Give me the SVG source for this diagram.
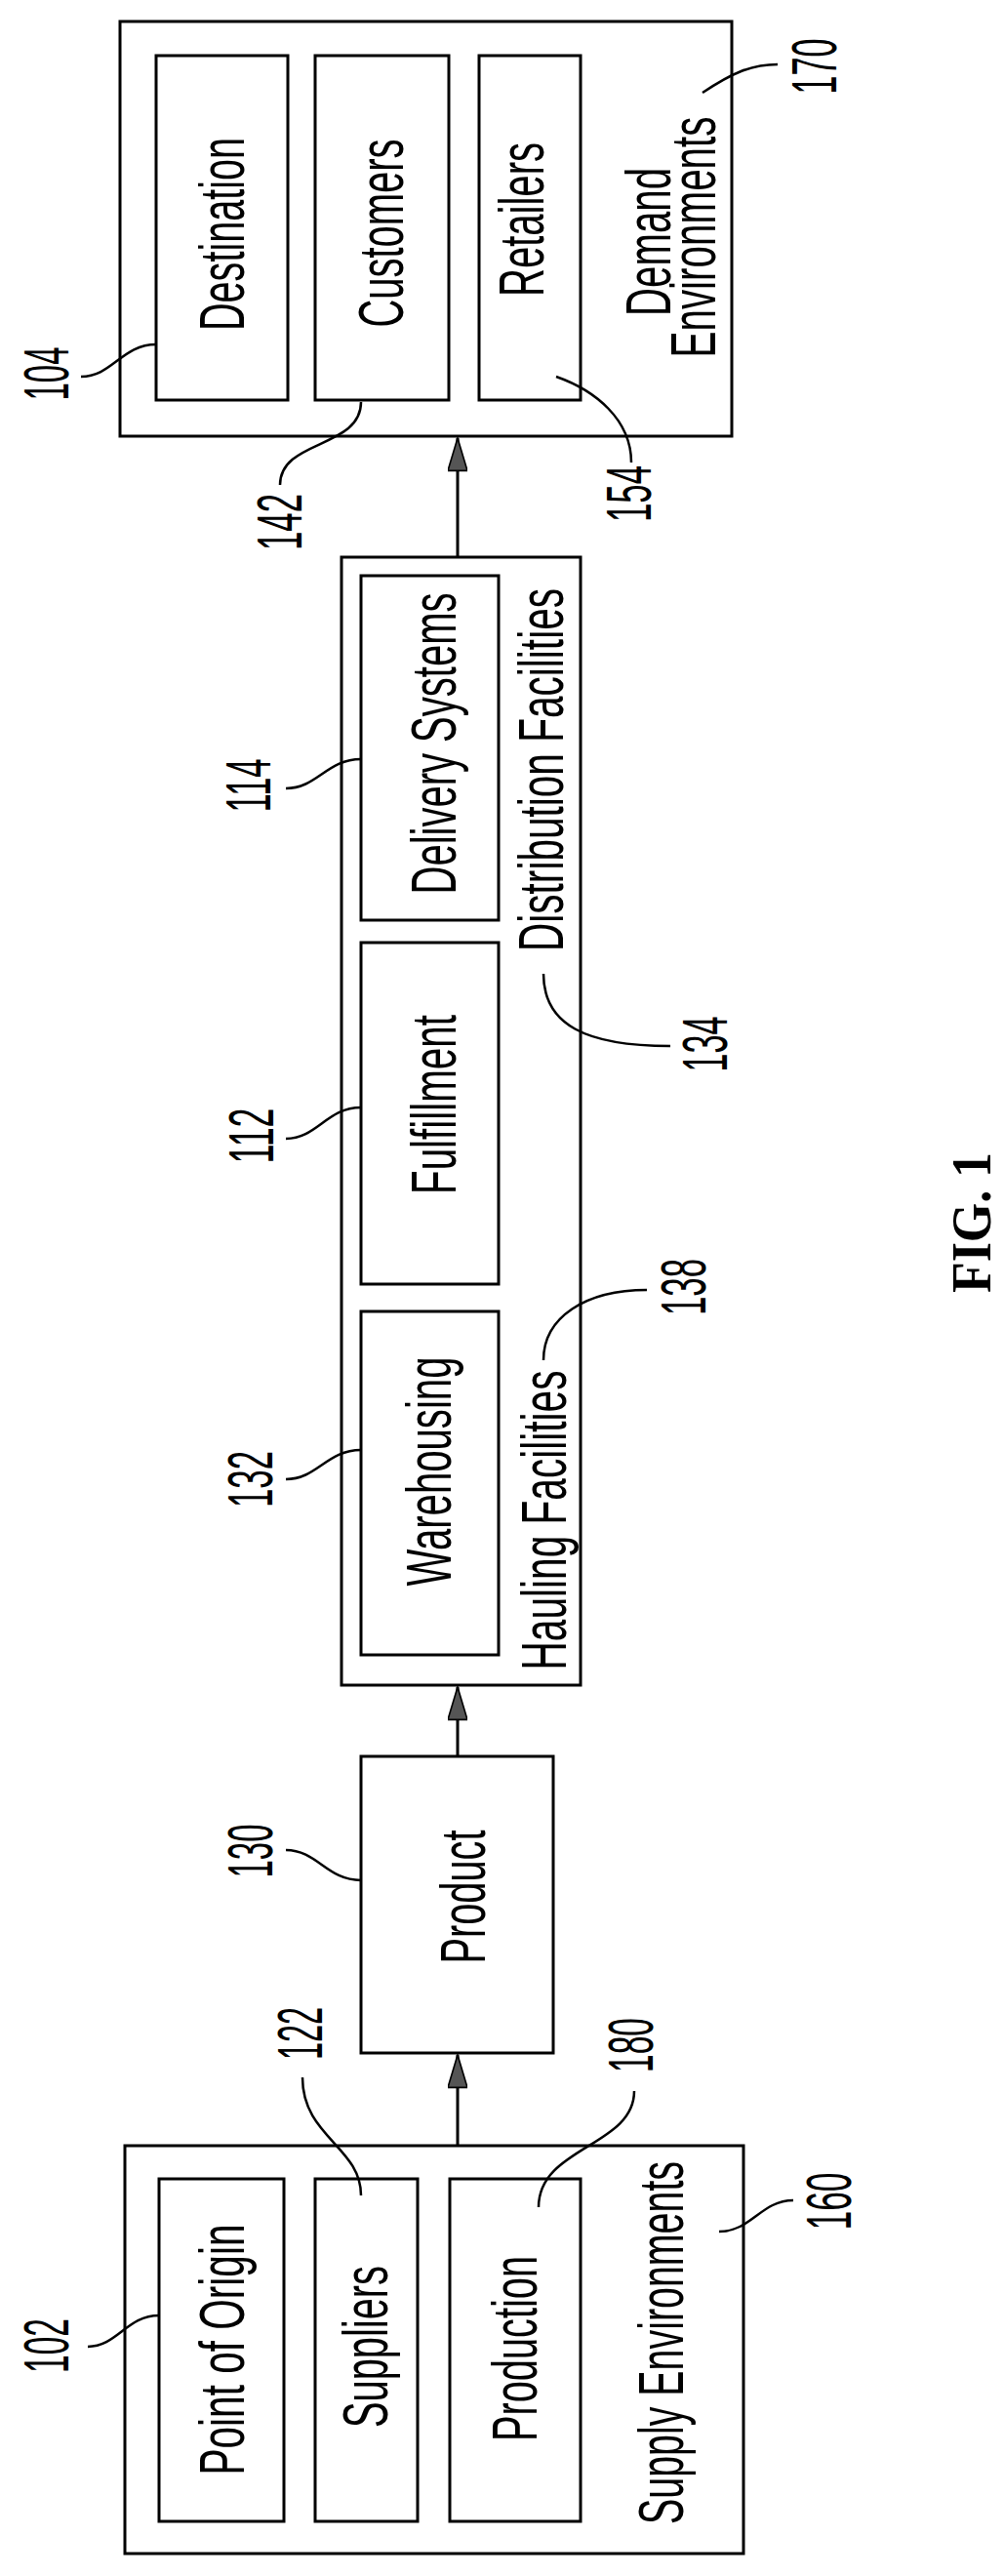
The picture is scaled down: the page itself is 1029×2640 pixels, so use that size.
<svg xmlns="http://www.w3.org/2000/svg" width="1029" height="2640" viewBox="0 0 1029 2640">
<style>
.b{fill:#fff;stroke:#000;stroke-width:3}
.t{font-family:"Liberation Sans",Arial,sans-serif;font-size:64px;text-anchor:middle;fill:#000}
.l{fill:none;stroke:#000;stroke-width:2.5}
.c{fill:none;stroke:#000;stroke-width:3}
</style>
<defs>
<marker id="ar" viewBox="0 0 20 12" refX="20" refY="6" markerWidth="36" markerHeight="20" orient="auto" markerUnits="userSpaceOnUse"><path d="M0,0L20,6L0,12z" fill="#555" stroke="#000"/></marker></defs>
<rect width="1029" height="2640" fill="#fff"/>
<g id="connectors">
<line class="c" x1="469" y1="571" x2="469" y2="449" marker-end="url(#ar)"/>
<line class="c" x1="469" y1="1800" x2="469" y2="1729" marker-end="url(#ar)"/>
<line class="c" x1="469" y1="2199" x2="469" y2="2106" marker-end="url(#ar)"/>
</g>
<g id="demand">
<rect class="b" x="123" y="22" width="627" height="425"/>
<text class="t" transform="translate(687,248) rotate(-90)" textLength="152" lengthAdjust="spacingAndGlyphs">Demand</text>
<text class="t" transform="translate(733,243) rotate(-90)" textLength="247" lengthAdjust="spacingAndGlyphs">Environments</text>
</g>
<g id="destination"><rect class="b" x="160" y="57" width="135" height="353"/><text class="t" transform="translate(250,240) rotate(-90)" textLength="198" lengthAdjust="spacingAndGlyphs">Destination</text></g>
<g id="customers"><rect class="b" x="323" y="57" width="137" height="353"/><text class="t" transform="translate(413,239) rotate(-90)" textLength="193" lengthAdjust="spacingAndGlyphs">Customers</text></g>
<g id="retailers"><rect class="b" x="491" y="57" width="104" height="353"/><text class="t" transform="translate(557,225) rotate(-90)" textLength="158" lengthAdjust="spacingAndGlyphs">Retailers</text></g>
<g id="distribution">
<rect class="b" x="350" y="571" width="245" height="1156"/>
<text class="t" transform="translate(577,789) rotate(-90)" textLength="372" lengthAdjust="spacingAndGlyphs">Distribution Facilities</text>
<text class="t" transform="translate(580,1558) rotate(-90)" textLength="307" lengthAdjust="spacingAndGlyphs">Hauling Facilities</text>
</g>
<g id="delivery"><rect class="b" x="370" y="590" width="141" height="353"/><text class="t" transform="translate(467,762) rotate(-90)" textLength="309" lengthAdjust="spacingAndGlyphs">Delivery Systems</text></g>
<g id="fulfillment"><rect class="b" x="370" y="966" width="141" height="350"/><text class="t" transform="translate(467,1132) rotate(-90)" textLength="184" lengthAdjust="spacingAndGlyphs">Fulfillment</text></g>
<g id="warehousing"><rect class="b" x="370" y="1344" width="141" height="352"/><text class="t" transform="translate(462,1508) rotate(-90)" textLength="235" lengthAdjust="spacingAndGlyphs">Warehousing</text></g>
<g id="product"><rect class="b" x="370" y="1800" width="197" height="304"/><text class="t" transform="translate(497,1944) rotate(-90)" textLength="137" lengthAdjust="spacingAndGlyphs">Product</text></g>
<g id="supply">
<rect class="b" x="128" y="2199" width="634" height="418"/>
<text class="t" transform="translate(700,2401) rotate(-90)" textLength="372" lengthAdjust="spacingAndGlyphs">Supply Environments</text>
</g>
<g id="origin"><rect class="b" x="163" y="2233" width="128" height="351"/><text class="t" transform="translate(250,2408) rotate(-90)" textLength="257" lengthAdjust="spacingAndGlyphs">Point of Origin</text></g>
<g id="suppliers"><rect class="b" x="323" y="2233" width="105" height="351"/><text class="t" transform="translate(397,2405) rotate(-90)" textLength="166" lengthAdjust="spacingAndGlyphs">Suppliers</text></g>
<g id="production"><rect class="b" x="461" y="2233" width="134" height="351"/><text class="t" transform="translate(550,2407) rotate(-90)" textLength="190" lengthAdjust="spacingAndGlyphs">Production</text></g>
<g id="labels">
<path class="l" d="M720,95C750,75 770,66 797,66"/>
<path class="l" d="M83,386C115,386 125,353 160,353"/>
<path class="l" d="M370,412C370,460 287,450 287,497"/>
<path class="l" d="M570,386C610,400 647,430 647,474"/>
<path class="l" d="M293,808C325,808 335,778 370,778"/>
<path class="l" d="M293,1167C325,1167 335,1135 370,1135"/>
<path class="l" d="M293,1516C325,1516 335,1486 370,1486"/>
<path class="l" d="M557,1394C557,1350 600,1322 663,1322"/>
<path class="l" d="M557,998C557,1050 600,1072 687,1072"/>
<path class="l" d="M293,1896C325,1896 335,1927 370,1927"/>
<path class="l" d="M310,2129C310,2190 370,2200 370,2250"/>
<path class="l" d="M650,2143C650,2200 552,2200 552,2262"/>
<path class="l" d="M90,2405C120,2405 130,2373 163,2373"/>
<path class="l" d="M737,2287C770,2287 780,2255 813,2255"/>
<text class="t" transform="translate(857,68) rotate(-90)" textLength="57" lengthAdjust="spacingAndGlyphs">170</text>
<text class="t" transform="translate(70,383) rotate(-90)" textLength="55" lengthAdjust="spacingAndGlyphs">104</text>
<text class="t" transform="translate(309,535) rotate(-90)" textLength="58" lengthAdjust="spacingAndGlyphs">142</text>
<text class="t" transform="translate(667,506) rotate(-90)" textLength="58" lengthAdjust="spacingAndGlyphs">154</text>
<text class="t" transform="translate(277,805) rotate(-90)" textLength="55" lengthAdjust="spacingAndGlyphs">114</text>
<text class="t" transform="translate(280,1164) rotate(-90)" textLength="57" lengthAdjust="spacingAndGlyphs">112</text>
<text class="t" transform="translate(279,1516) rotate(-90)" textLength="58" lengthAdjust="spacingAndGlyphs">132</text>
<text class="t" transform="translate(723,1319) rotate(-90)" textLength="58" lengthAdjust="spacingAndGlyphs">138</text>
<text class="t" transform="translate(745,1070) rotate(-90)" textLength="57" lengthAdjust="spacingAndGlyphs">134</text>
<text class="t" transform="translate(279,1897) rotate(-90)" textLength="55" lengthAdjust="spacingAndGlyphs">130</text>
<text class="t" transform="translate(330,2084) rotate(-90)" textLength="54" lengthAdjust="spacingAndGlyphs">122</text>
<text class="t" transform="translate(669,2096) rotate(-90)" textLength="56" lengthAdjust="spacingAndGlyphs">180</text>
<text class="t" transform="translate(70,2404) rotate(-90)" textLength="56" lengthAdjust="spacingAndGlyphs">102</text>
<text class="t" transform="translate(872,2256) rotate(-90)" textLength="59" lengthAdjust="spacingAndGlyphs">160</text>
</g>
<text transform="translate(1015,1253) rotate(-90)" style="font-family:'Liberation Serif',serif;font-weight:bold;font-size:56px;text-anchor:middle" textLength="144" lengthAdjust="spacingAndGlyphs">FIG. 1</text>
</svg>
